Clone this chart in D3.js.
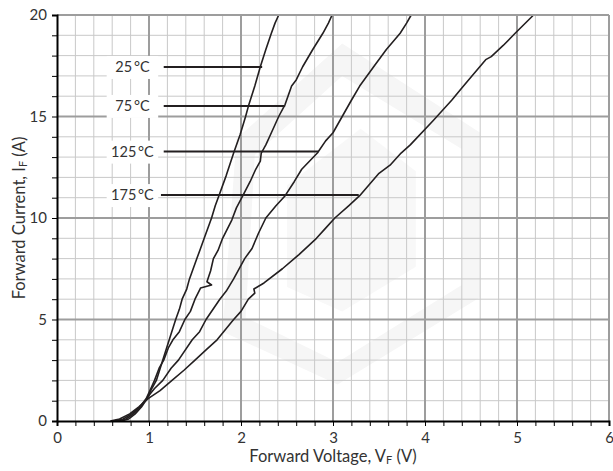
<!DOCTYPE html>
<html>
<head>
<meta charset="utf-8">
<script src="https://cdnjs.cloudflare.com/ajax/libs/d3/7.8.5/d3.min.js"></script>
<style>
  body { margin: 0; background: #fff; }
  svg { display: block; font-family: Lato, "Open Sans", sans-serif; }
</style>
</head>
<body>
<div class="canvas"></div>
<script>
// forward voltage (V) / forward current (A)
const v25  = [0.70, 0.78, 0.85, 0.92, 0.98, 1.03, 1.08, 1.15, 1.22, 1.29, 1.33, 1.36, 1.41, 1.44, 1.52, 1.56, 1.60, 1.68, 1.72, 1.76, 1.84, 1.92, 1.99, 2.05, 2.08, 2.15, 2.21, 2.27, 2.33, 2.37, 2.41];
const i25  = [0,    0.1,  0.35, 0.7,  1.1,  1.6,  2.0,  3.0,  4.0,  5.0,  5.5,  6.0,  6.5,  7.0,  8.0,  8.5,  9.0,  10.0, 10.6, 11.1, 12.1, 13.2, 14.1, 15.0, 15.5, 16.5, 17.45, 18.3, 19.1, 19.6, 20];

const v75  = [0.66, 0.75, 0.83, 0.91, 0.97, 1.02, 1.06, 1.11, 1.16, 1.21, 1.26, 1.33, 1.39, 1.45, 1.50, 1.56, 1.68, 1.63, 1.67, 1.70, 1.75, 1.80, 1.90, 1.95, 2.02, 2.10, 2.16, 2.21, 2.22, 2.27, 2.33, 2.41, 2.48, 2.55, 2.60, 2.67, 2.78, 2.89, 2.95, 2.99];
const i75  = [0,    0.1,  0.35, 0.7,  1.1,  1.6,  2.0,  2.6,  3.0,  3.6,  4.0,  4.4,  5.0,  5.4,  6.0,  6.55, 6.7,  6.86, 7.4,  8.0,  8.4,  9.0,  9.9,  10.5, 11.1, 11.8, 12.4, 12.8, 13.2, 13.6, 14.2, 15.0, 15.6, 16.5, 16.8, 17.45, 18.3, 19.1, 19.6, 20];

const v125 = [0.62, 0.72, 0.81, 0.90, 0.97, 1.06, 1.15, 1.24, 1.32, 1.47, 1.55, 1.62, 1.77, 1.84, 1.92, 2.04, 2.12, 2.19, 2.27, 2.38, 2.48, 2.58, 2.66, 2.83, 2.92, 3.00, 3.10, 3.20, 3.29, 3.45, 3.58, 3.73, 3.80, 3.85];
const i125 = [0,    0.1,  0.35, 0.7,  1.1,  1.6,  2.0,  2.6,  3.0,  4.0,  4.4,  5.0,  6.0,  6.4,  7.0,  8.0,  8.5,  9.25, 10.0, 10.6, 11.1, 11.8, 12.4, 13.2, 13.8, 14.2, 15.0, 15.8, 16.5, 17.5, 18.3, 19.1, 19.6, 20];

const v175 = [0.58, 0.68, 0.79, 0.89, 0.99, 1.12, 1.25, 1.38, 1.50, 1.62, 1.74, 1.92, 2.00, 2.08, 2.15, 2.14, 2.25, 2.45, 2.63, 2.82, 2.92, 3.02, 3.17, 3.29, 3.50, 3.62, 3.74, 3.84, 4.09, 4.29, 4.40, 4.51, 4.66, 4.72, 4.85, 4.98, 5.18];
const i175 = [0,    0.1,  0.35, 0.7,  1.1,  1.5,  2.0,  2.5,  3.0,  3.5,  4.0,  5.0,  5.4,  6.0,  6.3,  6.5,  6.8,  7.5,  8.2,  9.0,  9.5,  10.0, 10.6, 11.1, 12.2, 12.6, 13.2, 13.6, 14.8, 15.8, 16.4, 17.0, 17.8, 17.95, 18.5, 19.1, 20];

const tempLabels = ['25\u2009°C', '75\u2009°C', '125\u2009°C', '175\u2009°C'];
const labelCurrent = [17.44, 15.52, 13.27, 11.13];  // where the pointer lines sit
const labelEndV = [2.23, 2.48, 2.84, 3.28];        // where they meet the curve

const xTicks = [0, 1, 2, 3, 4, 5, 6];
const yTicks = [0, 5, 10, 15, 20];

const dims = { width: 613, height: 471 };
const margin = { top: 15, right: 4, bottom: 50, left: 57 };

const svg = d3.select('.canvas')
  .append('svg')
  .attr('width', dims.width)
  .attr('height', dims.height);

const x = d3.scaleLinear().domain([0, 6]).range([margin.left, dims.width - margin.right]);
const y = d3.scaleLinear().domain([0, 20]).range([dims.height - margin.bottom, margin.top]);

// faint logo watermark behind the grid (in data units)
const wm = svg.append('g').attr('fill', '#f6f6f6');
const hexOuter = [[1.95, 13.9], [3.1, 18.6], [4.6, 14.2], [4.6, 6.1], [3.05, 1.8], [1.8, 4.4]];
const hexInner = [[2.15, 13.1], [3.1, 17.0], [4.4, 13.4], [4.4, 6.7], [3.05, 2.9], [2.05, 5.1]];
const toPath = pts => 'M' + pts.map(p => `${x(p[0])},${y(p[1])}`).join('L') + 'Z';
wm.append('path')
  .attr('fill-rule', 'evenodd')
  .attr('d', toPath(hexOuter) + toPath(hexInner));
wm.append('path')
  .attr('d', toPath([[2.5, 11.6], [3.3, 14.4], [3.9, 12.3], [3.9, 7.6], [3.1, 5.4], [2.5, 6.6]]))
  .attr('fill', '#f8f8f8');

// grid
const grid = svg.append('g');
grid.selectAll('.vminor')
  .data(d3.range(0, 30).map(d => d / 5).filter(d => d % 1 !== 0))
  .enter().append('line')
  .attr('x1', d => x(d)).attr('x2', d => x(d))
  .attr('y1', y(0)).attr('y2', y(20))
  .attr('stroke', '#c9c9c9').attr('stroke-width', 1);
grid.selectAll('.hminor')
  .data(d3.range(1, 20).filter(d => d % 5 !== 0))
  .enter().append('line')
  .attr('y1', d => y(d)).attr('y2', d => y(d))
  .attr('x1', x(0)).attr('x2', x(6))
  .attr('stroke', '#c9c9c9').attr('stroke-width', 1);
grid.selectAll('.vmajor')
  .data(xTicks.slice(1))
  .enter().append('line')
  .attr('x1', d => x(d)).attr('x2', d => x(d))
  .attr('y1', y(0)).attr('y2', y(20))
  .attr('stroke', '#9d9d9d').attr('stroke-width', 2);
grid.selectAll('.hmajor')
  .data(yTicks.slice(1))
  .enter().append('line')
  .attr('y1', d => y(d)).attr('y2', d => y(d))
  .attr('x1', x(0)).attr('x2', x(6))
  .attr('stroke', '#9d9d9d').attr('stroke-width', 2);

// curves
const line = d3.line().x(d => x(d[0])).y(d => y(d[1]));
const series = [[v25, i25], [v75, i75], [v125, i125], [v175, i175]];
svg.append('g').selectAll('path')
  .data(series)
  .enter().append('path')
  .attr('d', d => line(d3.zip(d[0], d[1])))
  .attr('fill', 'none')
  .attr('stroke', '#231f20')
  .attr('stroke-width', 1.6)
  .attr('stroke-linejoin', 'round');

// temperature labels with pointer lines
const labels = svg.append('g');
labels.selectAll('rect')
  .data(labelCurrent)
  .enter().append('rect')
  .attr('x', x(0.54)).attr('width', x(1.1) - x(0.54))
  .attr('y', d => y(d) - 11).attr('height', 23)
  .attr('fill', '#fff');
labels.selectAll('line')
  .data(labelCurrent)
  .enter().append('line')
  .attr('x1', (d, i) => x(i === 3 ? 1.13 : 1.16))
  .attr('x2', (d, i) => x(labelEndV[i]))
  .attr('y1', d => y(d)).attr('y2', d => y(d))
  .attr('stroke', '#231f20').attr('stroke-width', 2);
labels.selectAll('text')
  .data(labelCurrent)
  .enter().append('text')
  .attr('x', x(0.82))
  .attr('y', d => y(d) + 5)
  .attr('text-anchor', 'middle')
  .attr('font-size', 14.5)
  .attr('fill', '#333')
  .text((d, i) => tempLabels[i]);

// frame: top/right in grey, left/bottom axes in black
svg.append('line')
  .attr('x1', x(0)).attr('x2', x(6)).attr('y1', y(20)).attr('y2', y(20))
  .attr('stroke', '#9d9d9d').attr('stroke-width', 2);
svg.append('line')
  .attr('x1', x(6)).attr('x2', x(6)).attr('y1', y(0)).attr('y2', y(20))
  .attr('stroke', '#9d9d9d').attr('stroke-width', 2);

const xAxis = d3.axisBottom(x)
  .tickValues(d3.range(0, 31).map(d => d / 5))
  .tickSize(5)
  .tickFormat(d => xTicks.includes(d) ? d : '');
const yAxis = d3.axisLeft(y)
  .tickValues(d3.range(0, 21))
  .tickSize(5)
  .tickFormat(d => yTicks.includes(d) ? d : '');

const gx = svg.append('g')
  .attr('transform', `translate(0, ${y(0)})`)
  .call(xAxis);
const gy = svg.append('g')
  .attr('transform', `translate(${x(0)}, 0)`)
  .call(yAxis);

[gx, gy].forEach(g => {
  g.select('.domain').attr('stroke', '#000').attr('stroke-width', 2);
  g.selectAll('.tick line').attr('stroke', '#000').attr('stroke-width', 1);
  g.selectAll('.tick text')
    .attr('font-family', 'Lato, "Open Sans", sans-serif')
    .attr('font-size', 15)
    .attr('fill', '#333');
});
gx.selectAll('.tick text').attr('dy', '0.9em');
gy.selectAll('.tick text').attr('x', -10);

// axis titles
const xTitle = svg.append('text')
  .attr('x', (x(0) + x(6)) / 2)
  .attr('y', 462)
  .attr('text-anchor', 'middle')
  .attr('font-size', 16.5)
  .attr('fill', '#333');
xTitle.append('tspan').text('Forward Voltage, V');
xTitle.append('tspan').attr('font-size', 11).attr('dy', 2).text('F');
xTitle.append('tspan').attr('dy', -2).text(' (V)');

const yTitle = svg.append('text')
  .attr('transform', `translate(25, ${(y(0) + y(20)) / 2}) rotate(-90)`)
  .attr('text-anchor', 'middle')
  .attr('font-size', 16.5)
  .attr('fill', '#333');
yTitle.append('tspan').text('Forward Current, I');
yTitle.append('tspan').attr('font-size', 11).attr('dy', 2).text('F');
yTitle.append('tspan').attr('dy', -2).text(' (A)');
</script>
</body>
</html>
